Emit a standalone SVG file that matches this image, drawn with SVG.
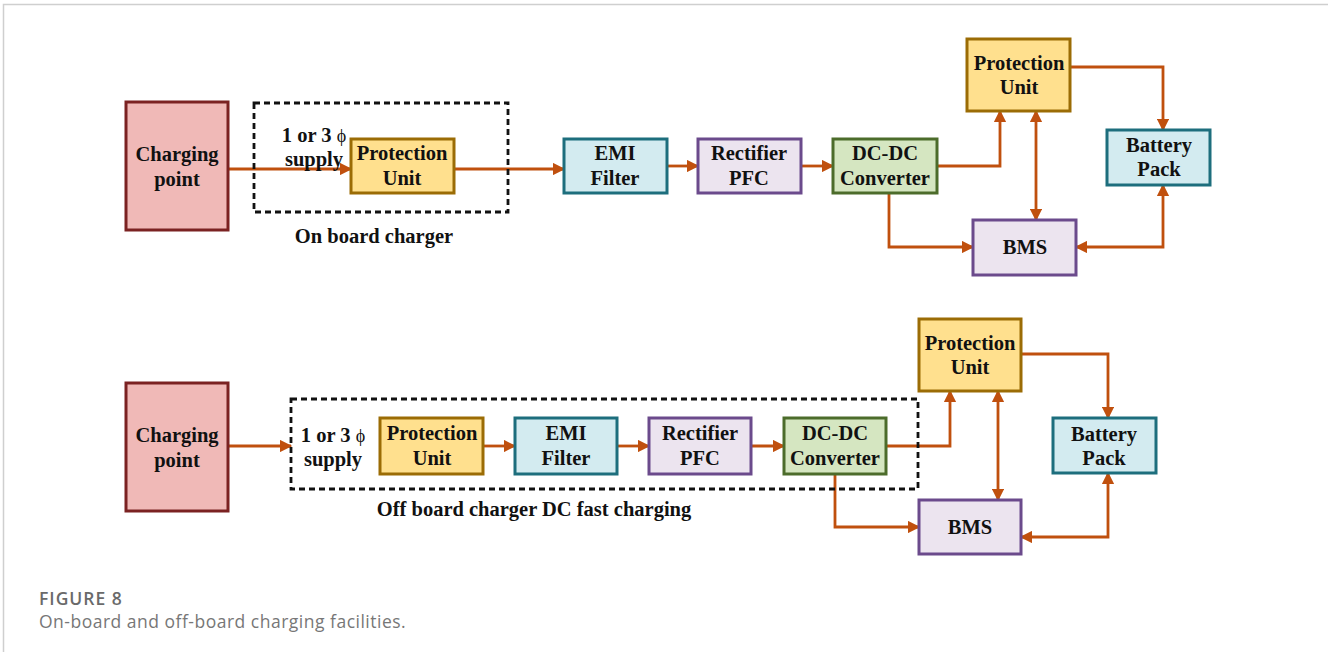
<svg xmlns="http://www.w3.org/2000/svg" width="1328" height="652" viewBox="0 0 1328 652">
<defs>
<marker id="ah" viewBox="0 0 10 10" refX="9" refY="5" markerWidth="4.6" markerHeight="4.4" orient="auto-start-reverse" markerUnits="strokeWidth">
<path d="M0,0 L10,5 L0,10 Z" fill="#c0500e"/>
</marker>
<style>
.n text{font-family:"Liberation Serif",serif;font-weight:bold;font-size:20.5px;fill:#111;text-anchor:middle}
.lbl{font-family:"Liberation Serif",serif;font-weight:bold;font-size:20.5px;fill:#111;text-anchor:middle}
.phi{font-weight:normal;font-size:18px}
.cp rect{fill:#f0b9b7;stroke:#7b2222;stroke-width:3}
.pu rect{fill:#ffe08e;stroke:#9b6c05;stroke-width:3}
.emi rect{fill:#d3ebf0;stroke:#1d6e7d;stroke-width:3}
.rec rect{fill:#ece4ef;stroke:#6b4a8c;stroke-width:3}
.dc rect{fill:#d5e6c1;stroke:#4c6c2b;stroke-width:3}
.bat rect{fill:#d3ebf0;stroke:#1d6e7d;stroke-width:3}
.bms rect{fill:#ece4ef;stroke:#6b4a8c;stroke-width:3}
.dash{fill:none;stroke:#111;stroke-width:2.8;stroke-dasharray:6 4}
#connectors path{fill:none;stroke:#c0500e;stroke-width:2.8}
.cap1{font-family:"Open Sans","Liberation Sans",sans-serif;font-size:17.5px;font-weight:600;fill:#6a6a6a;letter-spacing:1px}
.cap2{font-family:"Open Sans","Liberation Sans",sans-serif;font-size:17.5px;fill:#777;letter-spacing:0.5px}
</style>
</defs>
<rect width="1328" height="652" fill="#fff"/>
<path d="M3.5,652 V4.5 H1328" fill="none" stroke="#cfcfcf" stroke-width="1.5"/>

<g id="connectors">
<path d="M228,169 H351" marker-end="url(#ah)"/>
<path d="M454,169 H564" marker-end="url(#ah)"/>
<path d="M667,166 H698" marker-end="url(#ah)"/>
<path d="M801,166 H833" marker-end="url(#ah)"/>
<path d="M937,166 H1000 V111" marker-end="url(#ah)"/>
<path d="M1070,67 H1163 V130" marker-end="url(#ah)"/>
<path d="M1036,111 V220" marker-start="url(#ah)" marker-end="url(#ah)"/>
<path d="M889,193 V247 H973" marker-end="url(#ah)"/>
<path d="M1076,247 H1163 V185" marker-start="url(#ah)" marker-end="url(#ah)"/>

<path d="M228,446 H291" marker-end="url(#ah)"/>
<path d="M483,446 H515" marker-end="url(#ah)"/>
<path d="M617,446 H649" marker-end="url(#ah)"/>
<path d="M751,446 H784" marker-end="url(#ah)"/>
<path d="M886,446 H950 V391" marker-end="url(#ah)"/>
<path d="M1021,354 H1108 V418" marker-end="url(#ah)"/>
<path d="M998,391 V500" marker-start="url(#ah)" marker-end="url(#ah)"/>
<path d="M835,474 V527 H919" marker-end="url(#ah)"/>
<path d="M1021,537 H1108 V473" marker-start="url(#ah)" marker-end="url(#ah)"/>
</g>

<!-- Top diagram -->
<rect class="dash" x="254" y="103" width="254" height="109"/>
<text class="lbl" x="314" y="142">1 or 3 <tspan class="phi">ϕ</tspan></text>
<text class="lbl" x="314" y="166">supply</text>
<text class="lbl" x="374" y="243">On board charger</text>

<g id="cp1" class="n cp"><rect x="126" y="102" width="102" height="128"/><text x="177" y="161">Charging</text><text x="177" y="186">point</text></g>
<g id="pu1" class="n pu"><rect x="351" y="139" width="103" height="54"/><text x="402" y="160">Protection</text><text x="402" y="185">Unit</text></g>
<g id="emi1" class="n emi"><rect x="564" y="139" width="103" height="54"/><text x="615" y="160">EMI</text><text x="615" y="185">Filter</text></g>
<g id="rec1" class="n rec"><rect x="698" y="139" width="103" height="54"/><text x="749" y="160">Rectifier</text><text x="749" y="185">PFC</text></g>
<g id="dc1" class="n dc"><rect x="833" y="139" width="104" height="54"/><text x="885" y="160">DC-DC</text><text x="885" y="185">Converter</text></g>
<g id="pu1b" class="n pu"><rect x="967" y="39" width="103" height="72"/><text x="1019" y="70">Protection</text><text x="1019" y="94">Unit</text></g>
<g id="bat1" class="n bat"><rect x="1107" y="130" width="103" height="55"/><text x="1159" y="152">Battery</text><text x="1159" y="176">Pack</text></g>
<g id="bms1" class="n bms"><rect x="973" y="220" width="103" height="55"/><text x="1025" y="254">BMS</text></g>

<!-- Bottom diagram -->
<rect class="dash" x="291" y="399" width="627" height="90"/>
<text class="lbl" x="333" y="442">1 or 3 <tspan class="phi">ϕ</tspan></text>
<text class="lbl" x="333" y="466">supply</text>
<text class="lbl" x="534" y="516">Off board charger DC fast charging</text>

<g id="cp2" class="n cp"><rect x="126" y="383" width="102" height="128"/><text x="177" y="442">Charging</text><text x="177" y="467">point</text></g>
<g id="pu2" class="n pu"><rect x="380" y="418" width="103" height="56"/><text x="432" y="440">Protection</text><text x="432" y="465">Unit</text></g>
<g id="emi2" class="n emi"><rect x="515" y="418" width="102" height="56"/><text x="566" y="440">EMI</text><text x="566" y="465">Filter</text></g>
<g id="rec2" class="n rec"><rect x="649" y="418" width="102" height="56"/><text x="700" y="440">Rectifier</text><text x="700" y="465">PFC</text></g>
<g id="dc2" class="n dc"><rect x="784" y="418" width="102" height="56"/><text x="835" y="440">DC-DC</text><text x="835" y="465">Converter</text></g>
<g id="pu2b" class="n pu"><rect x="919" y="319" width="102" height="72"/><text x="970" y="350">Protection</text><text x="970" y="374">Unit</text></g>
<g id="bat2" class="n bat"><rect x="1053" y="418" width="103" height="55"/><text x="1104" y="441">Battery</text><text x="1104" y="465">Pack</text></g>
<g id="bms2" class="n bms"><rect x="919" y="500" width="102" height="54"/><text x="970" y="534">BMS</text></g>

<text class="cap1" x="39" y="605">FIGURE 8</text>
<text class="cap2" x="39" y="628">On-board and off-board charging facilities.</text>
</svg>
